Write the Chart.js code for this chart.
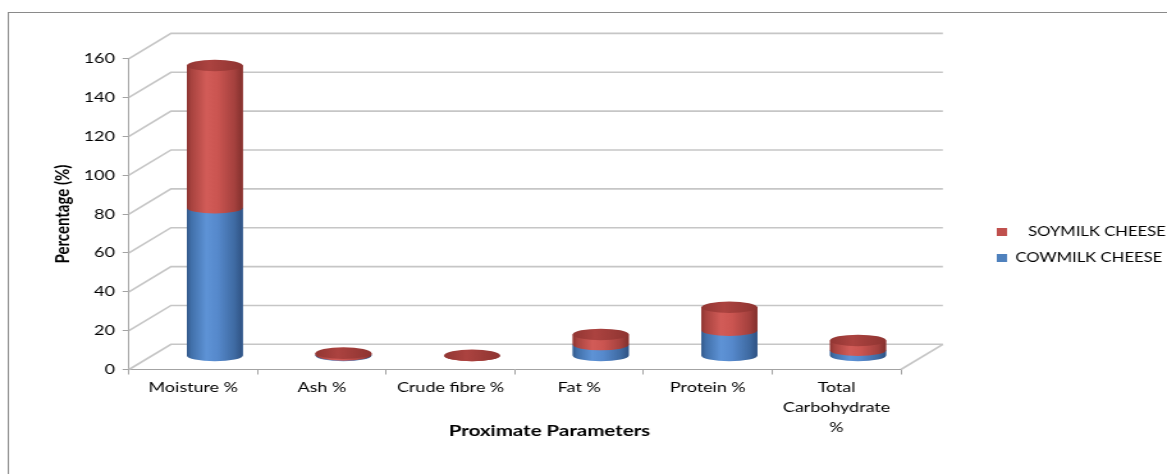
<!DOCTYPE html>
<html>
<head>
<meta charset="utf-8">
<script src="https://cdn.jsdelivr.net/npm/chart.js@4.4.1/dist/chart.umd.min.js"></script>
<style>
  html, body { margin: 0; padding: 0; background: #fff; overflow: hidden; }
  /* the chart is laid out on a narrower canvas and widened horizontally */
  #wrap { width: 912px; height: 474px; transform: scaleX(1.2796); transform-origin: 0 0; }
  canvas { display: block; }
</style>
</head>
<body>
<div id="wrap"><canvas id="c" width="912" height="474"></canvas></div>
<script>
// ---- data ----
const categories = ['Moisture %', 'Ash %', 'Crude fibre %', 'Fat %', 'Protein %', ['Total', 'Carbohydrate', '%']];
const cowmilkCheese = [76.3, 0.6, 0.0, 5.9, 13.3, 3.0];
const soymilkCheese = [73.2, 0.9, 0.3, 5.2, 11.8, 5.0];
const yTickValues = [0, 20, 40, 60, 80, 100, 120, 140, 160];
const seriesLabels = ['COWMILK CHEESE', '   SOYMILK CHEESE'];
const axisTitleY = 'Percentage (%)';
const axisTitleX = 'Proximate Parameters';

// ---- look ----
const FONT = 'Lato';
const AXIS = '#A3A3A3';
const GRID = '#C6C6C6';
const DEPTH_X = 32.8, DEPTH_Y = -25.2;   // back wall offset
const CYL_X = 16.8, CYL_Y = -13.5;       // cylinders stand half-way into the depth
const CAP_RY = 5.8;                      // vertical radius of cylinder ends
const LEGEND_W = 208;

const RED_SIDE = [[0, '#8C3431'], [0.08, '#A8433F'], [0.35, '#D25C58'], [0.55, '#CB5551'], [0.85, '#A5413E'], [1, '#82302D']];
const BLUE_SIDE = [[0, '#33598A'], [0.08, '#4170AA'], [0.35, '#5E93D6'], [0.55, '#5689CC'], [0.85, '#3F6BA3'], [1, '#2F5283']];
const RED_CAP = [[0, '#923633'], [0.4, '#AC4340'], [1, '#8E3431']];

function sideGradient(ctx, x, rx, stops) {
  const g = ctx.createLinearGradient(x - rx, 0, x + rx, 0);
  stops.forEach(s => g.addColorStop(s[0], s[1]));
  return g;
}

function drawBody(ctx, x, rx, top, base, stops) {
  if (base - top <= 0) return;
  ctx.fillStyle = sideGradient(ctx, x, rx, stops);
  ctx.beginPath();
  ctx.moveTo(x - rx, top);
  ctx.lineTo(x - rx, base);
  ctx.ellipse(x, base, rx, CAP_RY, 0, Math.PI, 0, true);
  ctx.lineTo(x + rx, top);
  ctx.closePath();
  ctx.fill();
}

function drawCap(ctx, x, rx, top, stops) {
  ctx.fillStyle = sideGradient(ctx, x, rx, stops);
  ctx.beginPath();
  ctx.ellipse(x, top, rx, CAP_RY, 0, 0, Math.PI * 2);
  ctx.fill();
}

const depthPlugin = {
  id: 'depth3d',
  beforeInit(chart) {
    const lg = chart.legend;
    if (lg) {
      const fit = lg.fit.bind(lg);
      lg.fit = function () { fit(); this.width = LEGEND_W; };
    }
  },
  afterLayout(chart) {
    const lg = chart.legend;
    if (lg) {
      lg.left = 766; lg.right = chart.width;
      lg.top = 212.5; lg.bottom = chart.height;
    }
  },
  beforeDraw(chart) {
    const ctx = chart.ctx;
    ctx.save();
    ctx.fillStyle = '#fff';
    ctx.fillRect(0, 0, chart.width, chart.height);
    ctx.strokeStyle = '#8A8A8A';
    ctx.lineWidth = 1;
    ctx.strokeRect(6.5, 12.5, chart.width + 10, chart.height + 10);
    ctx.restore();
  },
  beforeDatasetsDraw(chart) {
    const { ctx, chartArea: a, scales: { y } } = chart;
    ctx.save();
    ctx.strokeStyle = GRID;
    ctx.lineWidth = 1.6;
    yTickValues.forEach(v => {
      const py = y.getPixelForValue(v);
      ctx.beginPath();
      ctx.moveTo(a.left, py);
      ctx.lineTo(a.left + DEPTH_X, py + DEPTH_Y);
      ctx.lineTo(a.right + DEPTH_X, py + DEPTH_Y);
      ctx.stroke();
    });
    const p0 = y.getPixelForValue(0);
    ctx.beginPath();
    ctx.moveTo(a.right, p0);
    ctx.lineTo(a.right + DEPTH_X, p0 + DEPTH_Y);
    ctx.stroke();
    ctx.restore();
    // bars are drawn half-way back in the depth
    ctx.save();
    ctx.translate(CYL_X, CYL_Y);
  },
  afterDatasetsDraw(chart) {
    const ctx = chart.ctx;
    const cow = chart.getDatasetMeta(0).data;
    const soy = chart.getDatasetMeta(1).data;
    categories.forEach((_, i) => {
      const b0 = cow[i].getProps(['x', 'y', 'base', 'width'], true);
      const b1 = soy[i].getProps(['x', 'y', 'base', 'width'], true);
      const rx = b0.width / 2;
      drawBody(ctx, b0.x, rx, b0.y, b0.base, BLUE_SIDE);
      drawBody(ctx, b1.x, rx, b1.y, b1.base, RED_SIDE);
      drawCap(ctx, b1.x, rx, b1.y, RED_CAP);
    });
    ctx.restore();
  },
  afterDraw(chart) {
    const { ctx, chartArea: a } = chart;
    ctx.save();
    ctx.fillStyle = '#000';
    ctx.font = 'bold 16px ' + FONT;
    ctx.textAlign = 'center';
    ctx.textBaseline = 'middle';
    ctx.fillText(axisTitleX, (a.left + a.right) / 2 + 27, 431);
    ctx.restore();
  }
};

new Chart(document.getElementById('c'), {
  type: 'bar',
  data: {
    labels: categories,
    datasets: [
      { label: seriesLabels[0], data: cowmilkCheese, backgroundColor: '#4F81BD', clip: false,
        barPercentage: 0.435, categoryPercentage: 1 },
      { label: seriesLabels[1], data: soymilkCheese, backgroundColor: '#C0504D', clip: false,
        barPercentage: 0.435, categoryPercentage: 1 }
    ]
  },
  options: {
    responsive: false,
    devicePixelRatio: 1,
    animation: false,
    layout: { padding: { top: 58.6, left: 0, right: 0, bottom: 0 } },
    plugins: {
      tooltip: { enabled: false },
      legend: {
        position: 'right',
        align: 'start',
        reverse: true,
        labels: {
          boxWidth: 8, boxHeight: 8, padding: 13, color: '#000',
          font: { family: FONT, size: 13 }
        }
      }
    },
    scales: {
      x: {
        stacked: true,
        offset: true,
        grid: { display: true, drawOnChartArea: false, drawTicks: true, tickLength: 5, color: AXIS, offset: true },
        border: { display: true, color: AXIS },
        ticks: { color: '#000', font: { family: FONT, size: 14, lineHeight: 1.43 }, padding: 3, maxRotation: 0, autoSkip: false },
        afterFit(s) { s.height = 474 - 369.5; }
      },
      y: {
        stacked: true,
        min: 0, max: 160,
        afterBuildTicks(s) { s.ticks = yTickValues.map(v => ({ value: v })); },
        grid: { display: true, drawOnChartArea: false, drawTicks: true, tickLength: 5, color: AXIS },
        border: { display: true, color: AXIS },
        ticks: { color: '#000', font: { family: FONT, size: 14 }, padding: 6 },
        title: { display: true, text: axisTitleY, color: '#000', font: { family: FONT, size: 15, weight: 'bold' }, padding: { top: 40, bottom: 0 } },
        afterFit(s) { s.width = 100.8; }
      }
    }
  },
  plugins: [depthPlugin]
});
</script>
</body>
</html>
